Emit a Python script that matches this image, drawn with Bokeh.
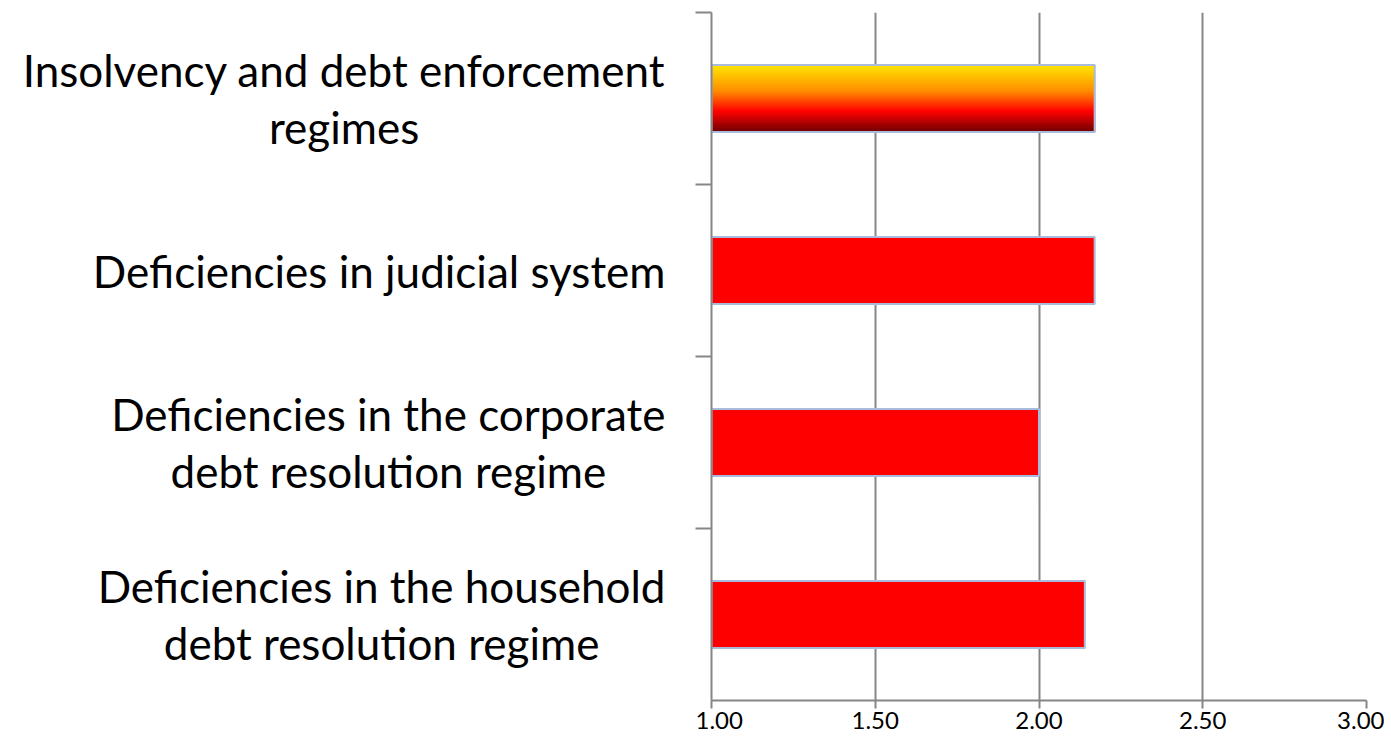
import numpy as np
from bokeh.plotting import figure
from bokeh.layouts import row
from bokeh.models import Range1d, FixedTicker, ColumnDataSource, NumeralTickFormatter
from bokeh.core.properties import value
from bokeh.embed import file_html
from bokeh.resources import INLINE

# ---- data ----
categories = [
    "Insolvency and debt enforcement\nregimes",
    "Deficiencies in judicial system",
    "Deficiencies in the corporate\ndebt resolution regime",
    "Deficiencies in the household\ndebt resolution regime",
]
scores = [2.17, 2.17, 2.00, 2.14]
highlight = [True, False, False, False]
x_ticks = [1.0, 1.5, 2.0, 2.5, 3.0]

# ---- styling ----
FONT = "Lato"
GRID = "#868686"
OUTLINE = "#a9bbdc"
BAR_H = 0.39
X0 = 1.0
grad_stops = [(0.0, (255, 232, 0)), (0.40, (255, 140, 0)), (0.70, (255, 0, 0)), (1.0, (112, 0, 0))]

n = len(categories)
ypos = [n - 1 - i for i in range(n)]
y_range = Range1d(-0.5, n - 0.5)

AXIS_W = 16
W_LEFT = 711 - AXIS_W
FRAME_W = 655
R_BORDER = 18
TOP_B = 12
FRAME_H = 688
BOT_B = 38
H = TOP_B + FRAME_H + BOT_B

# right figure (bars)
p = figure(width=AXIS_W + FRAME_W + R_BORDER, height=H, x_range=Range1d(1.0, 3.0), y_range=y_range,
           output_backend="svg", toolbar_location=None,
           min_border_left=0, min_border_right=R_BORDER, min_border_top=TOP_B, min_border_bottom=BOT_B)
p.outline_line_color = None
p.background_fill_color = "white"
p.border_fill_color = "white"

def grad_color(t):
    for (t0, c0), (t1, c1) in zip(grad_stops[:-1], grad_stops[1:]):
        if t0 <= t <= t1:
            f = (t - t0) / (t1 - t0) if t1 > t0 else 0
            c = [int(round(a + (b - a) * f)) for a, b in zip(c0, c1)]
            return "#%02x%02x%02x" % tuple(c)
    return "#%02x%02x%02x" % grad_stops[-1][1]

# plain bars
plain = ColumnDataSource(dict(
    y=[y for y, h in zip(ypos, highlight) if not h],
    right=[s for s, h in zip(scores, highlight) if not h],
))
p.hbar(y="y", left=X0, right="right", height=BAR_H, source=plain,
       fill_color="#ff0000", line_color=OUTLINE, line_width=2)

# gradient bar(s) built from thin slices
N = 48
for y, s, h in zip(ypos, scores, highlight):
    if not h:
        continue
    ts = (np.arange(N) + 0.5) / N
    ys = y + BAR_H / 2 - ts * BAR_H
    cols = [grad_color(t) for t in ts]
    src = ColumnDataSource(dict(y=ys, right=[s] * N, color=cols))
    p.hbar(y="y", left=X0, right="right", height=BAR_H / N, source=src,
           fill_color="color", line_color="color", line_width=1.2)
    p.hbar(y=[y], left=X0, right=[s], height=BAR_H, fill_color=None,
           line_color=OUTLINE, line_width=2)

# grid
p.xgrid.ticker = FixedTicker(ticks=x_ticks)
p.xgrid.grid_line_color = GRID
p.xgrid.grid_line_width = 2
p.ygrid.grid_line_color = None
p.xgrid.level = "underlay"

# x axis
p.xaxis.ticker = FixedTicker(ticks=x_ticks)
p.xaxis.formatter = NumeralTickFormatter(format="0.00")
p.xaxis.axis_line_color = GRID
p.xaxis.axis_line_width = 2
p.xaxis.major_tick_line_color = GRID
p.xaxis.major_tick_line_width = 2
p.xaxis.major_tick_out = 8
p.xaxis.major_tick_in = 0
p.xaxis.minor_tick_line_color = None
p.xaxis.major_label_text_font = FONT
p.xaxis.major_label_text_font_size = "24px"
p.xaxis.major_label_text_color = "black"
p.xaxis.major_label_standoff = 3

# y axis (ticks between categories, no labels)
yt = [k + 0.5 for k in range(n)]
p.yaxis.ticker = FixedTicker(ticks=yt)
p.yaxis.major_label_overrides = {t: "" for t in yt}
p.yaxis.axis_line_color = GRID
p.yaxis.axis_line_width = 2
p.yaxis.major_tick_line_color = GRID
p.yaxis.major_tick_line_width = 2
p.yaxis.major_tick_out = AXIS_W
p.yaxis.major_tick_in = 0
p.yaxis.minor_tick_line_color = None
p.yaxis.major_label_standoff = 0

# left figure (category labels)
q = figure(width=W_LEFT, height=H, x_range=Range1d(0, W_LEFT), y_range=y_range,
           output_backend="svg", toolbar_location=None,
           min_border_left=0, min_border_right=0, min_border_top=TOP_B, min_border_bottom=BOT_B)
q.axis.visible = False
q.grid.visible = False
q.outline_line_color = None
q.border_fill_color = "white"
lab = ColumnDataSource(dict(y=ypos, text=categories))
q.text(x=W_LEFT - 30, y="y", text="text", source=lab, anchor="center_right", text_align="center",
       text_baseline="middle", text_font=value(FONT), text_font_size="44px",
       text_color="black", text_line_height=1.1)

layout = row(q, p)
open("out.html", "w").write(file_html(layout, INLINE))
